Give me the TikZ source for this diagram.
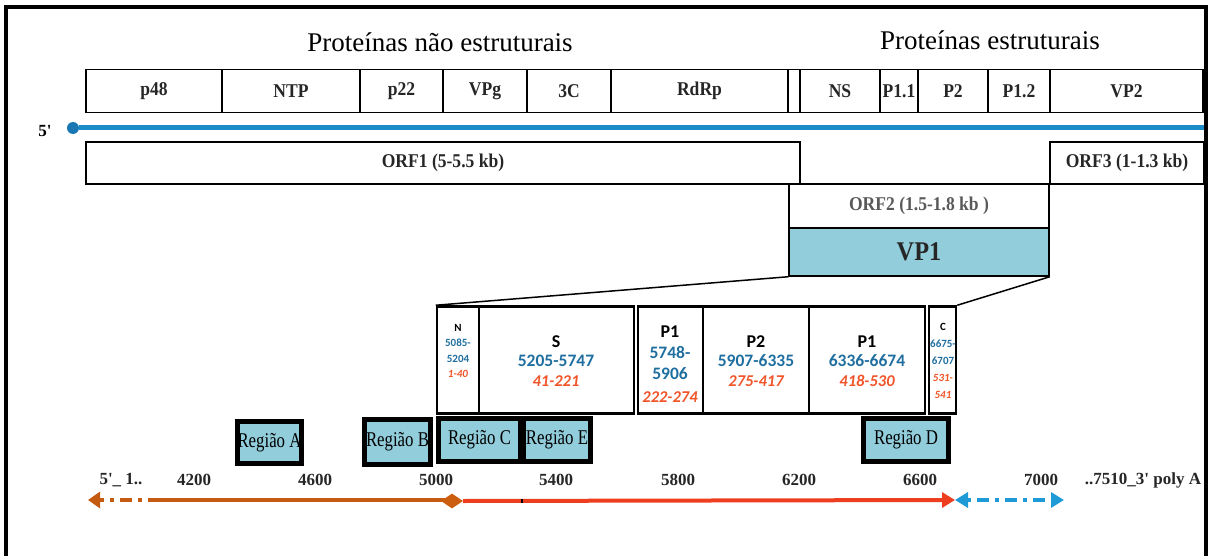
\documentclass[tikz,border=0pt]{standalone}
\usepackage{fontspec}
\setmainfont{Liberation Serif}
\newfontfamily\calibri{Carlito}
\newfontfamily\narrowserif[FakeStretch=0.8]{Liberation Serif}
\newfontfamily\slimserif[FakeStretch=0.9]{Liberation Serif}
\usetikzlibrary{arrows.meta, positioning, shapes.geometric}
\newcommand*{\fsz}[2]{\fontsize{#1}{#2}\selectfont}
\definecolor{rnaBlue}{RGB}{28,140,200}
\definecolor{capBlue}{RGB}{25,120,180}
\definecolor{boxBlue}{RGB}{146,205,220}
\definecolor{numBlue}{RGB}{31,110,160}
\definecolor{aaRed}{RGB}{240,84,40}
\definecolor{utrBrown}{RGB}{197,90,17}
\definecolor{cdsRed}{RGB}{238,62,32}
\definecolor{utrBlue}{RGB}{30,155,215}
\tikzstyle{segment} = [draw, rectangle, line width=1.5pt, minimum height=43pt, inner sep=0pt, font=\slimserif\fsz{19.5}{21}\bfseries, text=black!85]
\tikzstyle{orfbox} = [draw, rectangle, line width=1.5pt, inner sep=0pt, font=\slimserif\fsz{19.5}{21}\bfseries, text=black!85]
\tikzstyle{detail} = [draw, rectangle, line width=2.5pt, minimum height=107pt, inner sep=0pt]
\tikzstyle{detailtext} = [align=center, inner sep=0pt]
\tikzstyle{region} = [draw, rectangle, line width=4.5pt, fill=boxBlue, inner sep=0pt, font=\narrowserif\fsz{21}{22}]
\tikzstyle{ticklabel} = [font=\fsz{17}{19}\bfseries, text=black!85]
\tikzstyle{zoom} = [line width=1.5pt]
\tikzstyle{rna} = [line width=5pt, rnaBlue]
\tikzstyle{utr5} = [line width=4pt, utrBrown]
\tikzstyle{cds} = [line width=4pt, cdsRed, -{Triangle[length=13pt, width=15pt]}]
\tikzstyle{utr3} = [line width=4pt, utrBlue, dash pattern=on 4pt off 6pt on 12pt off 6pt,
    {Triangle[length=13pt, width=15pt]}-{Triangle[length=13pt, width=15pt]}]

\begin{document}
\begin{tikzpicture}[x=1pt, y=-1pt]
    \useasboundingbox (0,0) rectangle (1209,556);
    \draw [line width=4pt] (6,556) -- (6,7) -- (1206,7) -- (1206,556);

    \node (title ns) [font=\fsz{27}{30}] at (440,42) {Proteínas não estruturais};
    \node (title s) [font=\fsz{27}{30}] at (990,40) {Proteínas estruturais};

    % genome segments
    \foreach \l/\r/\txt [count=\i] in {86/222/p48, 222/360/NTP, 360/443/p22, 443/527/VPg,
        527/611/3C, 611/788/RdRp, 788/800/{}, 800/880/NS, 880/918/P1.1, 918/988/P2,
        988/1050/P1.2, 1050/1203/VP2} {
        \node (seg \i) [segment, minimum width={(\r-\l)*1pt}] at ({(\l+\r)/2}, 91) {\txt};
    }

    \coordinate (rna end) at (1204,128);
    \node (cap) [circle, fill=capBlue, inner sep=0pt, minimum size=12pt] at (73,128) {};
    \draw [rna] (cap.east) -- (rna end);
    \node (five prime) [font=\fsz{17}{18}\bfseries] at (45,131) {5\textquotesingle};

    \node (orf1) [orfbox, minimum width=714pt, minimum height=42pt] at (443,163) {ORF1 (5-5.5 kb)};
    \node (orf3) [orfbox, minimum width=154pt, minimum height=42pt] at (1127,163) {ORF3 (1-1.3 kb)};
    \node (orf2) [orfbox, minimum width=260pt, minimum height=44pt, text=black!65] at (919,206) {ORF2 (1.5-1.8 kb )};
    \node (vp1) [orfbox, fill=boxBlue, minimum width=260pt, minimum height=48pt, font=\slimserif\fsz{27}{28}\bfseries] at (919,252) {VP1};

    % VP1 domains
    \foreach \name/\l/\r in {n/437/479, s/479/634, p1a/638/703, p2/703/809, p1b/809/925, c/929/956} {
        \node (box \name) [detail, minimum width={(\r-\l)*1pt}] at ({(\l+\r)/2}, 360) {};
    }

    \draw [zoom] (vp1.south west) -- (box n.north west);
    \draw [zoom] (vp1.south east) -- (box c.north east);

    \node (txt n) [detailtext, font=\calibri\bfseries\fsz{11}{15.5}] at (458,351)
        {N\\\textcolor{numBlue}{5085-}\\\textcolor{numBlue}{5204}\\\textcolor{aaRed}{\itshape 1-40}};
    \node (txt s) [detailtext, font=\calibri\bfseries\fsz{17.5}{19.5}] at (556,361)
        {{\fsz{18}{19.5}S}\\\textcolor{numBlue}{5205-5747}\\\textcolor{aaRed}{\itshape\fsz{16.5}{19.5}41-221}};
    \node (txt p1a) [detailtext, font=\calibri\bfseries\fsz{17.5}{21}] at (670,364)
        {{\fsz{18}{21}P1}\\\textcolor{numBlue}{5748-}\\\textcolor{numBlue}{5906}\\[2pt]\textcolor{aaRed}{\itshape\fsz{16.5}{21}222-274}};
    \node (txt p2) [detailtext, font=\calibri\bfseries\fsz{17.5}{19.5}] at (756,361)
        {{\fsz{18}{19.5}P2}\\\textcolor{numBlue}{5907-6335}\\\textcolor{aaRed}{\itshape\fsz{16.5}{19.5}275-417}};
    \node (txt p1b) [detailtext, font=\calibri\bfseries\fsz{17.5}{19.5}] at (867,361)
        {{\fsz{18}{19.5}P1}\\\textcolor{numBlue}{6336-6674}\\\textcolor{aaRed}{\itshape\fsz{16.5}{19.5}418-530}};
    \node (txt c) [detailtext, font=\calibri\bfseries\fsz{11}{17}] at (943,361)
        {C\\\textcolor{numBlue}{6675-}\\\textcolor{numBlue}{6707}\\\textcolor{aaRed}{\itshape 531-}\\\textcolor{aaRed}{\itshape 541}};

    % amplified regions
    \foreach \name/\cx/\cy/\w/\h in {A/269.5/442.5/64/42, B/397.5/442/66/45, C/479.5/440/82/43,
        E/557/440/67/43, D/906/440/85/43} {
        \node (region \name) [region, minimum width={\w*1pt}, minimum height={\h*1pt}] at (\cx,\cy) {Região \name};
    }

    % genome positions
    \foreach \x/\txt [count=\i] in {121/{5\textquotesingle\_ 1..}, 194/4200, 315/4600, 436/5000, 556/5400,
        678/5800, 799/6200, 920/6600, 1041/7000, 1143/{..7510\_3\textquotesingle{} poly A}} {
        \node (pos \i) [ticklabel] at (\x,480) {\txt};
    }

    \coordinate (utr5 tip) at (88,500);
    \coordinate (utr5 dash) at (160,500);
    \coordinate (cds end) at (955,500);
    \coordinate (utr3 tip) at (1064,500);
    \draw [utr5] (452,500) -- (utr5 dash);
    \draw [utr5, dash pattern=on 12pt off 6pt on 4pt off 6pt, -{Triangle[length=12pt, width=16pt]}] (utr5 dash) -- (utr5 tip);
    \node (junction) [diamond, fill=utrBrown!90!orange, inner sep=0pt, minimum width=22pt, minimum height=15pt] at (452,501) {};
    \draw [cds] (junction.east) -- (cds end);
    \draw [utr3] (cds end) -- (utr3 tip);
    \node (mark) [fill=black, inner sep=0pt, minimum width=2pt, minimum height=4pt] at (522,501) {};
\end{tikzpicture}
\end{document}
